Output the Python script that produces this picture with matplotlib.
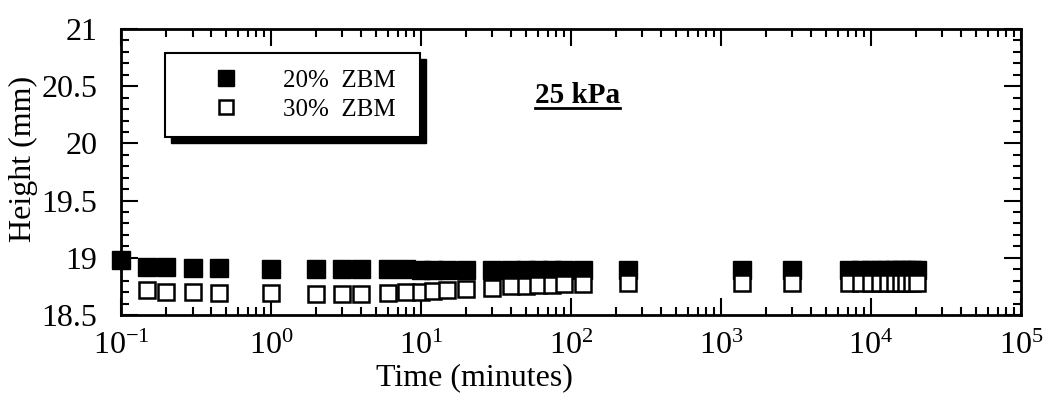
import matplotlib
matplotlib.use("Agg")
import matplotlib.pyplot as plt
from matplotlib.patches import Rectangle
from matplotlib.ticker import LogLocator, MultipleLocator, NullFormatter
from matplotlib.lines import Line2D

plt.rcParams["font.family"] = ["Liberation Serif", "DejaVu Serif"]
plt.rcParams["mathtext.fontset"] = "custom"
plt.rcParams["mathtext.rm"] = "Liberation Serif"
plt.rcParams["mathtext.it"] = "Liberation Serif:italic"

# time in minutes
time_20 = [0.1, 0.15, 0.2, 0.3, 0.45, 1, 2, 3, 4, 6, 8, 10, 12, 15, 20, 30, 40,
           50, 60, 75, 90, 120, 240, 1380, 3000, 7200, 8640, 10080, 11520,
           12960, 14400, 15840, 17280, 18720, 20160]
height_20 = [18.98, 18.92, 18.92, 18.91, 18.91, 18.90, 18.90, 18.90, 18.90,
             18.90, 18.90, 18.89, 18.89, 18.89, 18.89, 18.89, 18.89, 18.89,
             18.89, 18.89, 18.89, 18.89, 18.89, 18.89, 18.89, 18.89, 18.89,
             18.89, 18.89, 18.89, 18.89, 18.89, 18.89, 18.89, 18.89]
time_30 = [0.15, 0.2, 0.3, 0.45, 1, 2, 3, 4, 6, 8, 10, 12, 15, 20, 30, 40, 50,
           60, 75, 90, 120, 240, 1380, 3000, 7200, 8640, 10080, 11520, 12960,
           14400, 15840, 17280, 18720, 20160]
height_30 = [18.72, 18.70, 18.70, 18.69, 18.69, 18.68, 18.68, 18.68, 18.69,
             18.70, 18.70, 18.71, 18.72, 18.73, 18.74, 18.75, 18.75, 18.76,
             18.76, 18.77, 18.77, 18.78, 18.78, 18.78, 18.78, 18.78, 18.78,
             18.78, 18.78, 18.78, 18.78, 18.78, 18.78, 18.78]

x_ticks = [0.1, 1, 10, 100, 1000, 1e4, 1e5]
x_ticklabels = [r"$10^{-1}$", r"$10^{0}$", r"$10^{1}$", r"$10^{2}$",
                r"$10^{3}$", r"$10^{4}$", r"$10^{5}$"]
y_ticks = [18.5, 19, 19.5, 20, 20.5, 21]
y_ticklabels = ["18.5", "19", "19.5", "20", "20.5", "21"]

fig = plt.figure(figsize=(10.5, 4), dpi=100)
ax = fig.add_axes([0.1152, 0.2125, 0.857, 0.715])

ax.plot(time_20, height_20, "s", color="black", markersize=13, clip_on=False,
        label="20%  ZBM", zorder=3)
ax.plot(time_30, height_30, "s", markerfacecolor="white", markeredgecolor="black",
        markeredgewidth=1.8, markersize=12, clip_on=False, label="30%  ZBM", zorder=3)

ax.set_xscale("log")
ax.set_xlim(0.1, 1e5)
ax.set_ylim(18.5, 21)
ax.xaxis.set_minor_locator(LogLocator(base=10, subs=range(2, 10), numticks=20))
ax.xaxis.set_minor_formatter(NullFormatter())
ax.set_xticks(x_ticks)
ax.set_xticklabels(x_ticklabels)
ax.yaxis.set_minor_locator(MultipleLocator(0.1))
ax.set_yticks(y_ticks)
ax.set_yticklabels(y_ticklabels)

ax.tick_params(which="both", direction="in", top=True, right=True, width=1.5,
               labelsize=23)
ax.tick_params(which="major", length=12)
ax.tick_params(which="minor", length=6)
ax.tick_params(axis="x", pad=12)
ax.tick_params(axis="y", pad=17)
for s in ax.spines.values():
    s.set_linewidth(2)

ax.set_xlabel("Time (minutes)", fontsize=23)
ax.set_ylabel("Height (mm)", fontsize=23)
ax.xaxis.set_label_coords(0.393, -0.17)
ax.yaxis.set_label_coords(-0.092, 0.545)

leg = ax.legend(loc="upper left", bbox_to_anchor=(0.049, 0.916, 0.283, 0.0),
                mode="expand", frameon=True, fancybox=False, fontsize=18,
                borderpad=0.65, handletextpad=0.45, labelspacing=0.25,
                handlelength=3.6, markerscale=0.85, borderaxespad=0,
                framealpha=1)
leg.get_frame().set_edgecolor("black")
leg.get_frame().set_linewidth(1.5)
leg.set_zorder(5)

txt = ax.text(0.507, 0.769, "25 kPa", transform=ax.transAxes, fontsize=21,
              fontweight="bold", ha="center", va="center")

fig.canvas.draw()
r = fig.canvas.get_renderer()
inv = ax.transAxes.inverted()
# legend drop shadow
lb = leg.get_frame().get_window_extent(r)
(x0, y0), (x1, y1) = inv.transform([[lb.x0 + 6, lb.y0 - 6], [lb.x1 + 6, lb.y1 - 6]])
ax.add_patch(Rectangle((x0, y0), x1 - x0, y1 - y0, transform=ax.transAxes,
                       facecolor="black", edgecolor="black", zorder=4))
# underline for the label
tb = txt.get_window_extent(r)
(ux0, uy), (ux1, _) = inv.transform([[tb.x0, tb.y0 + 1], [tb.x1, tb.y0 + 1]])
ax.add_line(Line2D([ux0, ux1], [uy, uy], transform=ax.transAxes, color="black",
                   linewidth=2))

fig.savefig("out.png", dpi=100)
